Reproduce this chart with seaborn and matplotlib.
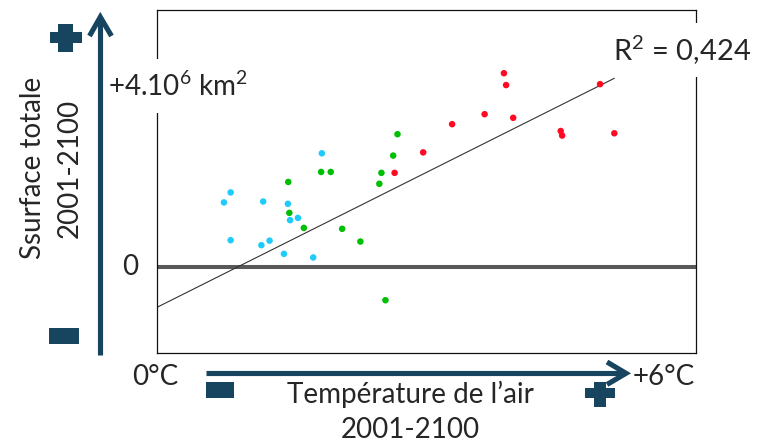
import numpy as np
import pandas as pd
import matplotlib
matplotlib.use("Agg")
import matplotlib.pyplot as plt
from matplotlib.patches import Rectangle
import seaborn as sns

# ---- data (temperature change °C, surface change 10^6 km2) ----
cyan_T = [0.745, 0.820, 1.182, 1.457, 1.481, 1.569, 0.820, 1.162, 1.253, 1.413, 1.739, 1.835]
cyan_S = [1.42, 1.64, 1.44, 1.39, 1.03, 1.08, 0.59, 0.48, 0.58, 0.29, 0.21, 2.50]
green_T = [1.461, 1.473, 1.635, 1.827, 1.934, 2.061, 2.264, 2.475, 2.498, 2.629, 2.677, 2.543]
green_S = [1.87, 1.19, 0.86, 2.09, 2.09, 0.84, 0.56, 1.83, 2.07, 2.45, 2.92, -0.73]
red_T = [2.645, 2.963, 3.285, 3.647, 3.862, 3.886, 3.965, 4.494, 4.510, 4.932, 5.091]
red_S = [2.07, 2.52, 3.14, 3.36, 4.26, 4.00, 3.28, 2.99, 2.89, 4.02, 2.94]
groups = ["cyan", "green", "red"]
palette = {"cyan": "#1ECBFA", "green": "#00BE00", "red": "#FF0A23"}
# trend line as drawn in the reference
trend_intercept = -0.886
trend_slope = 0.989
r2_label = "R$^2$ = 0,424"
x_range = (0, 6)
y_range = (-1.89, 5.65)

df = pd.DataFrame({
    "T": cyan_T + green_T + red_T,
    "S": cyan_S + green_S + red_S,
    "g": ["cyan"] * len(cyan_T) + ["green"] * len(green_T) + ["red"] * len(red_T),
})
trend_x = np.array([0.0, df["T"].max()])
trend = pd.DataFrame({"T": trend_x, "S": trend_intercept + trend_slope * trend_x})

sns.set_theme(style="white")
plt.rcParams["font.family"] = ["Lato", "DejaVu Sans"]
plt.rcParams["mathtext.default"] = "regular"

W, H = 767, 444
fig = plt.figure(figsize=(W / 100, H / 100), dpi=100)
ax = fig.add_axes([157 / W, 1 - 353 / H, (696 - 157) / W, (353 - 10) / H])

ax.axhline(0, color="#595959", lw=2.9, zorder=1)
sns.lineplot(data=trend, x="T", y="S", color="#333333", lw=0.8, ax=ax, zorder=2)
sns.scatterplot(data=df, x="T", y="S", hue="g", palette=palette, s=22,
                linewidth=0, legend=False, ax=ax, zorder=3)
ax.set_xlim(*x_range)
ax.set_ylim(*y_range)
ax.set_xticks([])
ax.set_yticks([])
ax.set_xlabel("")
ax.set_ylabel("")
for sp in ax.spines.values():
    sp.set_color("#111111")
    sp.set_linewidth(0.9)

# ---- overlay in pixel coordinates for decorations ----
ov = fig.add_axes([0, 0, 1, 1], facecolor="none")
ov.set_xlim(0, W)
ov.set_ylim(H, 0)
ov.axis("off")

blue = "#17445F"
lw = 3.7
ov.plot([100.3, 100.3], [355, 18], color=blue, lw=lw, solid_capstyle="butt", zorder=6)
ov.plot([89.5, 100.3, 111.5], [36, 17, 36], color=blue, lw=lw,
        solid_joinstyle="miter", solid_capstyle="butt", zorder=6)
ov.plot([205.7, 625], [373.3, 373.3], color=blue, lw=lw, solid_capstyle="butt", zorder=6)
ov.plot([607, 626, 607], [362, 373.3, 384.5], color=blue, lw=lw,
        solid_joinstyle="miter", solid_capstyle="butt", zorder=6)
for (x0, y0, w, h) in [(49.5, 32.5, 32, 10.5), (58.3, 24, 14.4, 27.7),
                       (585, 388, 30, 10), (594, 381.7, 12, 25),
                       (49.3, 328.3, 29.7, 16), (205.7, 381.7, 28.6, 16)]:
    ov.add_patch(Rectangle((x0, y0), w, h, color=blue, lw=0, zorder=6))

fs = 20
ov.text(178, 86, "+4.10$^6$ km$^2$", fontsize=20, ha="center", va="center",
        bbox=dict(boxstyle="square,pad=0.45", fc="white", ec="none"), zorder=5)
ov.text(682, 50, r2_label, fontsize=21, ha="center", va="center",
        bbox=dict(boxstyle="square,pad=0.35", fc="white", ec="none"), zorder=5)
ov.text(130, 267, "0", fontsize=fs, ha="center", va="center")
ov.text(155, 377, "0°C", fontsize=fs, ha="center", va="center")
ov.text(664, 377, "+6°C", fontsize=fs, ha="center", va="center")
ov.text(410, 394, "Température de l’air", fontsize=fs, ha="center", va="center")
ov.text(410, 430, "2001-2100", fontsize=fs, ha="center", va="center")
ov.text(33, 168, "Ssurface totale", fontsize=fs, ha="center", va="center", rotation=90)
ov.text(70, 168, "2001-2100", fontsize=fs, ha="center", va="center", rotation=90)

fig.savefig("out.png", dpi=100)
